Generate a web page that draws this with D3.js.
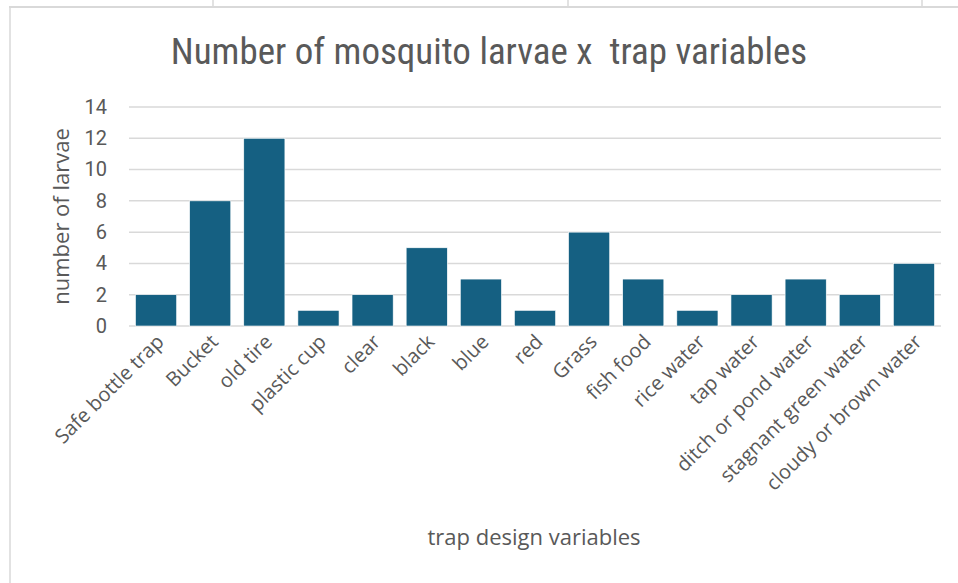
<!DOCTYPE html>
<html>
<head>
<meta charset="utf-8">
<script src="https://cdn.jsdelivr.net/npm/d3@7"></script>
<style>
  body { margin: 0; background: #fff; }
  svg { display: block; }
</style>
</head>
<body>
<div class="chart"></div>
<script>
var width = 958
var height = 583

// chart data
var categories = ['Safe bottle trap', 'Bucket', 'old tire', 'plastic cup', 'clear', 'black', 'blue', 'red',
    'Grass', 'fish food', 'rice water', 'tap water', 'ditch or pond water', 'stagnant green water', 'cloudy or brown water']
var larvae = [2, 8, 12, 1, 2, 5, 3, 1, 6, 3, 1, 2, 3, 2, 4]
var yTicks = [0, 2, 4, 6, 8, 10, 12, 14]
var sheetColumns = [213, 568, 922]   // spreadsheet cell edges peeking above the chart

var textColor = '#595959'
var gridColor = '#d9d9d9'
var barColor = '#156082'
var labelFont = '"Open Sans", sans-serif'

var margin = { top: 107, right: 17, bottom: 257, left: 129 }
var innerW = width - margin.left - margin.right
var innerH = height - margin.top - margin.bottom

var svg = d3.select('.chart').append('svg')
    .attr('width', width)
    .attr('height', height)

// chart frame (top + left edges of the pasted chart)
svg.append('line')
    .attr('x1', 9).attr('x2', width).attr('y1', 7).attr('y2', 7)
    .attr('stroke', gridColor).attr('stroke-width', 2)
svg.append('line')
    .attr('x1', 10).attr('x2', 10).attr('y1', 7).attr('y2', height)
    .attr('stroke', gridColor).attr('stroke-width', 1.5)
svg.selectAll('.col')
    .data(sheetColumns)
    .enter()
    .append('line')
    .attr('x1', function (d) { return d }).attr('x2', function (d) { return d })
    .attr('y1', 0).attr('y2', 7)
    .attr('stroke', gridColor).attr('stroke-width', 1.5)

var x = d3.scaleBand()
    .domain(categories)
    .range([0, innerW])
    .paddingInner(0.24)
    .paddingOuter(0.12)

var y = d3.scaleLinear()
    .domain([0, 14])
    .range([innerH, 0])

var g = svg.append('g')
    .attr('transform', 'translate(' + margin.left + ',' + margin.top + ')')

// gridlines
g.selectAll('.grid')
    .data(yTicks)
    .enter()
    .append('line')
    .attr('x1', 0).attr('x2', innerW)
    .attr('y1', function (d) { return y(d) })
    .attr('y2', function (d) { return y(d) })
    .attr('stroke', gridColor)
    .attr('stroke-width', 1.5)

// y axis labels
var yAxis = g.append('g')
    .call(d3.axisLeft(y).tickValues(yTicks).tickSize(0).tickPadding(22))
yAxis.select('.domain').remove()
yAxis.selectAll('text')
    .attr('fill', textColor)
    .style('font-family', 'Roboto, sans-serif')
    .style('font-size', '20px')

// bars
g.selectAll('.bar')
    .data(larvae)
    .enter()
    .append('rect')
    .attr('x', function (d, i) { return x(categories[i]) })
    .attr('y', function (d) { return y(d) })
    .attr('width', x.bandwidth())
    .attr('height', function (d) { return innerH - y(d) })
    .attr('fill', barColor)
    .attr('stroke', '#ffffff')
    .attr('stroke-width', 0.6)

// x axis labels
var xAxis = g.append('g')
    .attr('transform', 'translate(0,' + innerH + ')')
    .call(d3.axisBottom(x).tickSize(0).tickPadding(0))
xAxis.select('.domain').remove()
xAxis.selectAll('text')
    .attr('fill', textColor)
    .attr('text-anchor', 'end')
    .attr('dy', 0)
    .attr('transform', 'translate(9,17) rotate(-45)')
    .style('font-family', labelFont)
    .style('font-size', '20px')

// title
svg.append('text')
    .attr('x', 489)
    .attr('y', 64)
    .attr('text-anchor', 'middle')
    .attr('fill', textColor)
    .style('white-space', 'pre')
    .style('font-family', '"Liberation Sans Narrow", "Roboto Condensed", Roboto, sans-serif')
    .style('font-size', '37px')
    .text('Number of mosquito larvae x  trap variables')

// axis titles
svg.append('text')
    .attr('transform', 'translate(69,' + (margin.top + innerH / 2) + ') rotate(-90)')
    .attr('text-anchor', 'middle')
    .attr('fill', textColor)
    .style('font-family', labelFont)
    .style('font-size', '22px')
    .text('number of larvae')

svg.append('text')
    .attr('x', 534)
    .attr('y', 545)
    .attr('text-anchor', 'middle')
    .attr('fill', textColor)
    .style('font-family', labelFont)
    .style('font-size', '22px')
    .text('trap design variables')
</script>
</body>
</html>
